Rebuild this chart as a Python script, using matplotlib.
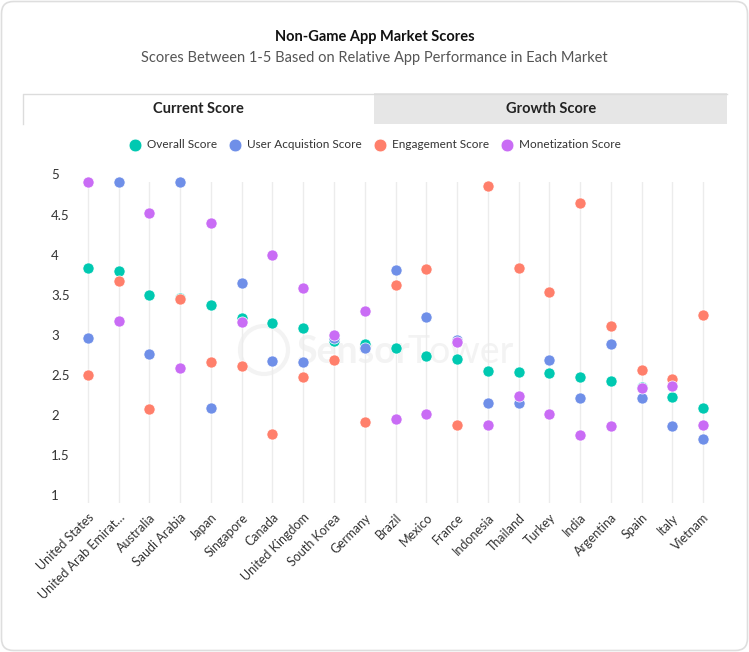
import matplotlib.pyplot as plt
from matplotlib.patches import FancyBboxPatch, Rectangle, Circle
from matplotlib.transforms import ScaledTranslation

# markets in chart order
markets = ['United States', 'United Arab Emirat…', 'Australia', 'Saudi Arabia', 'Japan',
           'Singapore', 'Canada', 'United Kingdom', 'South Korea', 'Germany', 'Brazil',
           'Mexico', 'France', 'Indonesia', 'Thailand', 'Turkey', 'India', 'Argentina',
           'Spain', 'Italy', 'Vietnam']

overall = [3.93, 3.89, 3.59, 3.55, 3.47, 3.31, 3.24, 3.18, 3.02, 2.98, 2.93,
           2.83, 2.79, 2.64, 2.63, 2.62, 2.57, 2.52, 2.45, 2.32, 2.18]
user_acq = [3.06, 5.0, 2.86, 5.0, 2.18, 3.74, 2.77, 2.76, 3.06, 2.93, 3.90,
            3.32, 3.03, 2.25, 2.25, 2.78, 2.31, 2.98, 2.31, 1.96, 1.80]
engagement = [2.60, 3.77, 2.17, 3.54, 2.76, 2.71, 1.86, 2.57, 2.78, 2.01, 3.72,
              3.92, 1.97, 4.95, 3.93, 3.63, 4.74, 3.21, 2.66, 2.55, 3.34]
monetization = [5.0, 3.27, 4.61, 2.68, 4.49, 3.26, 4.09, 3.68, 3.09, 3.39, 2.05,
                2.11, 3.01, 1.97, 2.33, 2.11, 1.85, 1.96, 2.43, 2.46, 1.97]

series_names = ['Overall Score', 'User Acquistion Score', 'Engagement Score', 'Monetization Score']
series_colors = ['#00c9b1', '#6f8fe8', '#ff7f6b', '#c96cf5']
y_ticks = [1, 1.5, 2, 2.5, 3, 3.5, 4, 4.5, 5]

plt.rcParams['font.family'] = ['Lato', 'DejaVu Sans']

W, H = 749, 652
fig = plt.figure(figsize=(W / 100, H / 100), dpi=100)

# background layer in pixel coordinates
bg = fig.add_axes([0, 0, 1, 1])
bg.set_xlim(0, W)
bg.set_ylim(H, 0)
bg.axis('off')

# card
bg.add_patch(FancyBboxPatch((1.5, 1.5), W - 3, H - 3, boxstyle='round,pad=0,rounding_size=12',
                            fc='white', ec='#dedede', lw=1.2))

# titles
bg.text(374.5, 37, 'Non-Game App Market Scores', ha='center', va='center',
        fontsize=10.5, fontweight='bold', color='#111111')
bg.text(374.5, 58, 'Scores Between 1-5 Based on Relative App Performance in Each Market',
        ha='center', va='center', fontsize=10.5, color='#555555')

# tabs
bg.add_patch(Rectangle((374, 93), 353, 31, fc='#e6e6e6', ec='none'))
bg.plot([22.5, 22.5, 727], [124, 93.5, 93.5], color='#dcdcdc', lw=1)
bg.text(198, 109, 'Current Score', ha='center', va='center', fontsize=10.5,
        fontweight='bold', color='#222222')
bg.text(551, 109, 'Growth Score', ha='center', va='center', fontsize=10.5,
        fontweight='bold', color='#222222')

# faint watermark
bg.add_patch(Circle((264, 350), 24, fc='none', ec='#f3f3f3', lw=3))
bg.text(296, 352, 'Sensor', ha='left', va='center', fontsize=27, fontweight='bold', color='#f3f3f3')
bg.text(408, 352, 'Tower', ha='left', va='center', fontsize=27, color='#f3f3f3')

# main plot
ax = fig.add_axes([72.6 / W, 1 - 503 / H, 645.8 / W, 321 / H])
ax.patch.set_alpha(0)

x = list(range(len(markets)))
handles = []
for vals, name, col in zip([overall, user_acq, engagement, monetization], series_names, series_colors):
    h = ax.scatter(x, vals, s=64, color=col, edgecolors='white', linewidths=0.5,
                   zorder=3, clip_on=False, label=name)
    handles.append(h)

ax.set_xlim(-0.5, len(markets) - 0.5)
ax.set_ylim(1, 5)
ax.set_xticks(x)
ax.set_xticklabels(markets, rotation=45, ha='right', va='top', rotation_mode='anchor',
                   fontsize=9, color='#333333')
ax.set_yticks(y_ticks)
ax.set_yticklabels([f'{t:g}' for t in y_ticks], fontsize=9.5, color='#333333')
ax.tick_params(length=0)
ax.tick_params(axis='x', pad=6)
ax.tick_params(axis='y', pad=15.5)
for lbl in ax.get_yticklabels():
    lbl.set_ha('left')
    lbl.set_transform(lbl.get_transform() + ScaledTranslation(0, 0.075, fig.dpi_scale_trans))

ax.grid(axis='x', color='#ececec', lw=1)
ax.set_axisbelow(True)
for sp in ax.spines.values():
    sp.set_visible(False)

ax.legend(handles=handles, loc='center', bbox_to_anchor=(372 / W, 1 - 145 / H),
          bbox_transform=fig.transFigure, ncol=4, frameon=False, fontsize=8.5,
          handletextpad=0.0, columnspacing=0.55, scatterpoints=1, markerscale=1.15,
          labelcolor='#333333')

fig.savefig('out.png', dpi=100)
